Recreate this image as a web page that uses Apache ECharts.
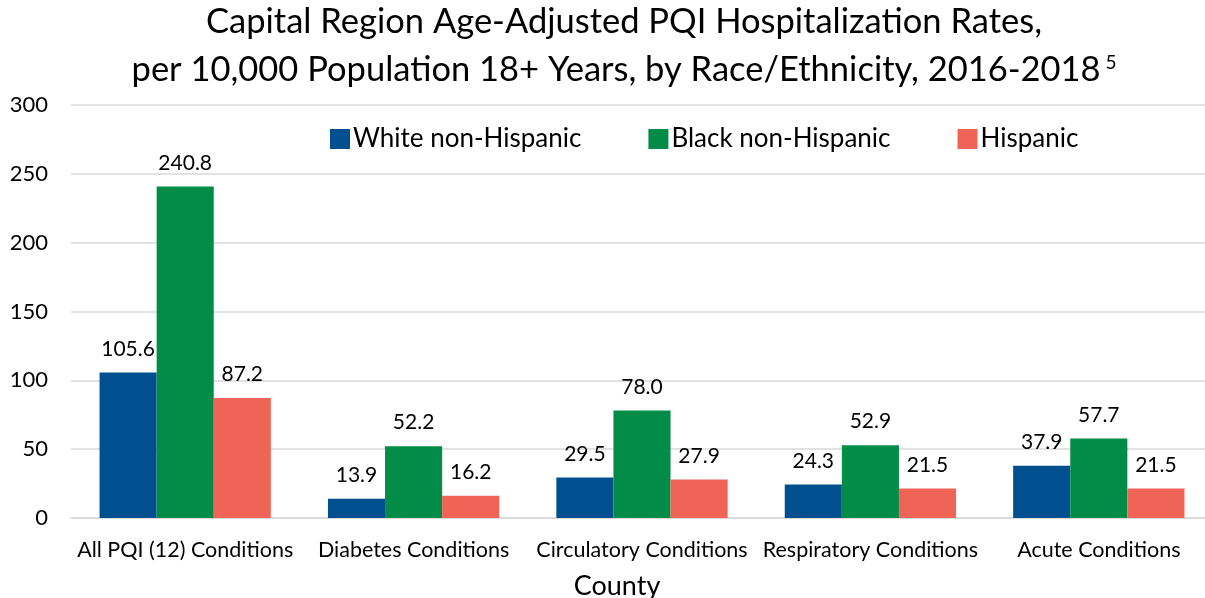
<!DOCTYPE html>
<html><head><meta charset="utf-8">
<script src="https://cdn.jsdelivr.net/npm/echarts@6/dist/echarts.min.js"></script>
<style>html,body{margin:0;padding:0;background:#fff}#c{width:1205px;height:598px}</style>
</head><body><div id="c"></div>
<script>
const categories = ["All PQI (12) Conditions","Diabetes Conditions","Circulatory Conditions","Respiratory Conditions","Acute Conditions"];
const seriesNames = ["White non-Hispanic","Black non-Hispanic","Hispanic"];
const whiteValues = [105.6, 13.9, 29.5, 24.3, 37.9];
const blackValues = [240.8, 52.2, 78.0, 52.9, 57.7];
const hispanicValues = [87.2, 16.2, 27.9, 21.5, 21.5];
const colors = ["#00508F","#038C47","#F06457"];
const FONT = "Lato";
const chart = echarts.init(document.getElementById('c'));
const mk = (name, data, color) => ({
  name, type: 'bar', data, barGap: '0%', barCategoryGap: '25%',
  itemStyle: {color},
  label: {show: true, position: 'top', distance: 13, formatter: p => p.value.toFixed(1),
    fontFamily: FONT, fontSize: 21, color: '#000'}
});
chart.setOption({
  textStyle: {fontFamily: FONT},
  title: {
    text: "Capital Region Age-Adjusted PQI Hospitalization Rates,\nper 10,000 Population 18+ Years, by Race/Ethnicity, 2016-2018{sup| 5}",
    left: 619, textAlign: 'center', top: -7,
    textStyle: {fontFamily: FONT, fontSize: 34.5, fontWeight: 'normal', color: '#000', lineHeight: 48,
      rich: {sup: {fontSize: 19, verticalAlign: 'top', padding: [7,0,0,0], fontFamily: FONT}}}
  },
  legend: {
    top: 121, left: 325, itemWidth: 20, itemHeight: 20, itemGap: 67,
    icon: 'rect',
    textStyle: {fontFamily: FONT, fontSize: 26, color: '#000', padding: [0,0,0,-2]},
    data: seriesNames
  },
  grid: {left: 71, right: -8, top: 105, bottom: 80, outerBoundsMode: 'none', containLabel: false},
  xAxis: {
    type: 'category', data: categories,
    name: 'County', nameLocation: 'middle', nameGap: 55,
    nameTextStyle: {fontFamily: FONT, fontSize: 27, color: '#000', padding: [0, 50, 0, 0]},
    axisLine: {lineStyle: {color: '#d9d9d9', width: 1.5}},
    axisTick: {show: false},
    axisLabel: {fontFamily: FONT, fontSize: 21.5, color: '#000', margin: 21, interval: 0}
  },
  yAxis: {
    type: 'value', min: 0, max: 300, interval: 50,
    axisLine: {show: false}, axisTick: {show: false},
    splitLine: {lineStyle: {color: '#d9d9d9', width: 1.5}},
    axisLabel: {fontFamily: FONT, fontSize: 22, color: '#000', margin: 23}
  },
  series: [
    mk(seriesNames[0], whiteValues, colors[0]),
    mk(seriesNames[1], blackValues, colors[1]),
    mk(seriesNames[2], hispanicValues, colors[2])
  ]
});
</script></body></html>
